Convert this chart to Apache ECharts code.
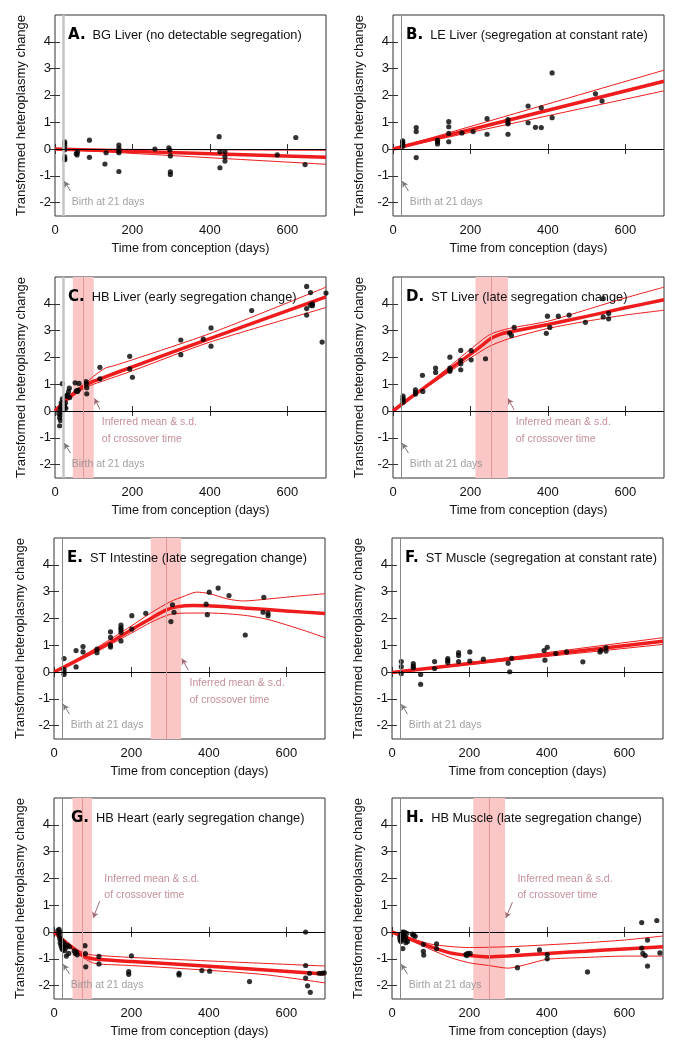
<!DOCTYPE html>
<html><head><meta charset="utf-8">
<script src="https://cdn.jsdelivr.net/npm/echarts@6/dist/echarts.min.js"></script>
<style>html,body{margin:0;padding:0;background:#fff}#c{width:678px;height:1049px}</style>
</head><body><div id="c"></div>
<script>
const xTickVals = [0, 200, 400, 600];
const yTickVals = [-2, -1, 0, 1, 2, 3, 4];
const panelLetters = ['A.', 'B.', 'C.', 'D.', 'E.', 'F.', 'G.', 'H.'];
const panelTitles = ['BG Liver (no detectable segregation)', 'LE Liver (segregation at constant rate)',
  'HB Liver (early segregation change)', 'ST Liver (late segregation change)',
  'ST Intestine (late segregation change)', 'ST Muscle (segregation at constant rate)',
  'HB Heart (early segregation change)', 'HB Muscle (late segregation change)'];
const birthDay = 21;
const crossMean = [null, null, 73, 255, 289, null, 73, 251];
const crossSd = [null, null, 27, 42, 39, null, 25, 41];

const pointsA = [[25,0.27],[25,0.2],[25,0.1],[25,-0.03],[25,-0.28],[25,-0.36],[25,-0.4],[55,-0.17],[57,-0.22],[58,-0.12],[89,0.33],[89,-0.31],[129,-0.56],[132,-0.14],[165,0.15],[165,0.02],[165,-0.08],[165,-0.14],[165,-0.84],[258,0.0],[294,0.04],[297,-0.04],[298,-0.26],[298,-0.85],[298,-0.95],[424,0.46],[426,-0.1],[426,-0.7],[439,-0.1],[439,-0.29],[439,-0.45],[574,-0.22],[622,0.43],[646,-0.58]];
const pointsB = [[25,0.3],[25,0.25],[25,0.18],[25,0.1],[60,0.8],[60,0.65],[60,-0.32],[115,0.33],[115,0.27],[115,0.19],[144,1.02],[144,0.83],[144,0.58],[144,0.27],[178,0.6],[207,0.65],[243,1.13],[243,0.55],[297,1.1],[297,0.98],[297,0.94],[297,0.55],[349,1.6],[349,0.98],[368,0.81],[383,1.54],[383,0.8],[411,2.84],[411,1.17],[523,2.06],[540,1.79]];
const pointsC = [[10,-0.1],[12,-0.25],[12,-0.55],[13,0.05],[14,-0.35],[15,-0.15],[15,0.15],[16,0.3],[17,-0.05],[18,0.25],[19,1.02],[19,0.45],[20,0.1],[21,0.35],[22,0.05],[24,0.2],[25,0.15],[26,0.55],[27,0.3],[28,0.1],[30,0.55],[32,0.6],[35,0.72],[37,0.85],[38,0.5],[52,1.05],[55,0.75],[58,0.73],[62,1.03],[60,0.78],[80,1.1],[81,1.02],[82,0.87],[82,0.64],[116,1.63],[116,1.2],[193,2.04],[193,1.57],[200,1.26],[325,2.65],[325,2.1],[383,2.68],[403,3.1],[403,2.42],[508,3.75],[650,4.65],[650,3.82],[650,3.58],[660,4.42],[660,3.95],[665,3.93],[665,4.0],[690,2.57],[700,4.4]];
const pointsD = [[26,0.56],[26,0.47],[26,0.41],[26,0.33],[58,0.79],[58,0.69],[58,0.63],[76,1.33],[77,0.73],[110,1.6],[110,1.44],[147,2.01],[147,1.6],[147,1.54],[147,1.48],[175,2.26],[175,1.88],[175,1.76],[175,1.54],[202,2.25],[202,1.91],[239,1.95],[301,2.91],[306,2.82],[313,3.12],[396,2.9],[399,3.54],[405,3.12],[427,3.54],[455,3.58],[497,3.31],[543,4.19],[543,3.51],[557,3.64],[557,3.44]];
const pointsE = [[26,0.5],[26,0.1],[26,0],[26,-0.09],[57,0.8],[57,0.19],[75,0.95],[75,0.75],[111,0.85],[111,0.72],[146,1.5],[146,1.29],[146,1.0],[146,0.93],[173,1.75],[173,1.65],[173,1.58],[173,1.48],[173,1.16],[201,2.1],[201,1.6],[237,2.19],[302,1.88],[306,2.51],[310,2.23],[393,2.53],[396,2.14],[401,2.98],[424,3.13],[452,2.85],[494,1.38],[542,2.79],[540,2.23],[553,2.2],[553,2.1]];
const pointsF = [[24,0.39],[24,0.2],[24,-0.06],[55,0.31],[55,0.22],[55,0.16],[74,-0.09],[74,-0.46],[110,0.39],[110,0.13],[144,0.5],[144,0.43],[144,0.35],[172,0.72],[172,0.62],[172,0.39],[201,0.75],[201,0.41],[236,0.48],[300,0.33],[304,0.01],[309,0.51],[393,0.8],[395,0.44],[401,0.92],[423,0.69],[451,0.75],[493,0.38],[537,0.75],[540,0.81],[553,0.91],[553,0.78]];
const pointsG = [[10,0.05],[12,-0.05],[13,0.1],[14,-0.15],[15,-0.25],[16,-0.4],[17,0.0],[18,-0.5],[19,-0.3],[20,-0.6],[21,-0.45],[22,-0.65],[24,-0.55],[25,-0.4],[27,-0.7],[28,-0.5],[30,-0.6],[32,-0.9],[35,-0.5],[38,-0.8],[40,-0.55],[52,-0.7],[55,-0.8],[58,-0.75],[60,-0.85],[80,-0.51],[81,-0.81],[82,-1.3],[116,-0.91],[116,-1.19],[193,-1.48],[193,-1.58],[200,-0.89],[323,-1.54],[323,-1.6],[382,-1.44],[402,-1.46],[505,-1.85],[650,0.0],[650,-1.25],[650,-1.72],[655,-2.01],[660,-1.54],[662,-2.25],[685,-1.54],[692,-1.54],[698,-1.52]];
const pointsH = [[20,-0.2],[21,-0.3],[22,-0.12],[23,-0.35],[25,-0.25],[26,-0.05],[27,0.0],[28,-0.62],[29,-0.15],[30,-0.1],[32,0.0],[33,-0.3],[35,-0.2],[36,-0.4],[38,-0.05],[40,-0.35],[53,-0.08],[56,-0.12],[60,-0.16],[81,-0.46],[81,-0.72],[82,-0.86],[115,-0.44],[115,-0.62],[191,-0.83],[193,-0.88],[196,-0.8],[202,-0.8],[324,-0.69],[324,-1.33],[381,-0.67],[401,-0.84],[401,-1.0],[505,-1.49],[645,0.35],[645,-0.6],[648,-0.8],[654,-0.88],[660,-0.3],[660,-1.27],[684,0.43],[692,-0.78]];

const fitA = [[0,0],[700,-0.31]];
const upperA = [[0,0],[700,-0.05]];
const lowerA = [[0,0],[700,-0.57]];
const fitB = [[0,0],[700,2.53]];
const upperB = [[0,0],[700,2.94]];
const lowerB = [[0,0],[700,2.17]];
const fitC = [[0,0],[10,0.15],[20,0.3],[30,0.42],[45,0.6],[60,0.78],[75,0.93],[90,1.05],[120,1.22],[200,1.65],[400,2.7],[700,4.26]];
const upperC = [[0,0],[30,0.5],[60,0.85],[80,1.05],[100,1.3],[130,1.6],[150,1.68],[200,1.91],[400,2.89],[700,4.62]];
const lowerC = [[0,0],[30,0.38],[60,0.7],[80,0.88],[100,1.0],[130,1.15],[200,1.5],[400,2.57],[700,3.86]];
const fitD = [[0,0],[50,0.55],[100,1.07],[150,1.6],[200,2.12],[230,2.45],[255,2.72],[280,2.88],[300,2.95],[400,3.23],[500,3.53],[600,3.85],[700,4.15]];
const upperD = [[0,0],[100,1.12],[200,2.3],[250,2.85],[300,3.08],[400,3.35],[500,3.78],[600,4.22],[700,4.62]];
const lowerD = [[0,0],[100,1.02],[200,1.98],[250,2.42],[300,2.7],[400,3.08],[500,3.35],[600,3.58],[700,3.76]];
const fitE = [[0,0],[50,0.36],[100,0.75],[150,1.15],[200,1.58],[250,2.0],[290,2.32],[320,2.44],[360,2.48],[400,2.47],[500,2.38],[600,2.28],[700,2.18]];
const upperE = [[0,0],[100,0.82],[200,1.72],[250,2.2],[300,2.62],[340,2.85],[368,2.98],[400,2.93],[450,2.72],[490,2.65],[550,2.72],[620,2.82],[700,2.92]];
const lowerE = [[0,0],[100,0.68],[200,1.45],[250,1.85],[300,2.15],[350,2.2],[400,2.2],[450,2.17],[500,2.1],[550,1.97],[600,1.76],[650,1.53],[700,1.28]];
const fitF = [[0,-0.02],[700,1.15]];
const upperF = [[0,-0.02],[700,1.28]];
const lowerF = [[0,-0.02],[700,1.03]];
const fitG = [[0,0],[20,-0.25],[40,-0.5],[60,-0.72],[75,-0.88],[90,-0.97],[120,-1.03],[200,-1.1],[400,-1.28],[700,-1.57]];
const upperG = [[0,0],[20,-0.22],[40,-0.45],[60,-0.65],[80,-0.8],[100,-0.86],[120,-0.88],[200,-0.95],[400,-1.08],[700,-1.27]];
const lowerG = [[0,0],[20,-0.28],[40,-0.55],[60,-0.8],[80,-1.0],[100,-1.15],[120,-1.2],[200,-1.25],[400,-1.43],[550,-1.6],[700,-1.9]];
const fitH = [[0,0],[50,-0.28],[100,-0.55],[150,-0.78],[200,-0.88],[250,-0.93],[300,-0.9],[400,-0.8],[500,-0.72],[600,-0.63],[700,-0.55]];
const upperH = [[0,0],[100,-0.45],[200,-0.58],[300,-0.55],[400,-0.48],[500,-0.4],[600,-0.3],[700,-0.15]];
const lowerH = [[0,0],[100,-0.65],[150,-0.95],[200,-1.15],[250,-1.25],[300,-1.35],[350,-1.2],[400,-1.02],[500,-0.95],[600,-0.9],[700,-0.9]];

const allPoints = [pointsA, pointsB, pointsC, pointsD, pointsE, pointsF, pointsG, pointsH];
const allFit = [fitA, fitB, fitC, fitD, fitE, fitF, fitG, fitH];
const allUpper = [upperA, upperB, upperC, upperD, upperE, upperF, upperG, upperH];
const allLower = [lowerA, lowerB, lowerC, lowerD, lowerE, lowerF, lowerG, lowerH];

// layout (pixels)
const gridLeft = [55, 393, 55, 393, 54, 392, 54, 392];
const gridTop = [15, 15, 277, 277, 538, 538, 798, 798];
const GW = 271, GH = 201;
const titleLeft = [68, 406, 68, 406, 67, 405, 71, 406];
// annotation anchors in data units
const noteAnchor = [null, null, [121,-0.74], [317,-0.74], [350,-0.74], null, [130,1.68], [324,1.68]];
const noteArrow = [null, null, [[116,0.06],[102,0.47]], [[313,0.04],[297,0.47]], [[347,0.07],[330,0.5]], null, [[118,1.15],[101,0.52]], [[311,1.11],[294,0.52]]];
const birthWide = [true, false, true, false, false, false, false, false];

const FONT = 'Liberation Sans, Arial, Helvetica, sans-serif';
const RED = '#ee1c1c';

const option = { animation: false, backgroundColor: '#fff', grid: [], xAxis: [], yAxis: [], series: [], title: [] };

for (let i = 0; i < 8; i++) {
  option.grid.push({ left: gridLeft[i], top: gridTop[i], width: GW, height: GH, show: true, borderColor: '#333', borderWidth: 1, containLabel: false });
  const tick = { show: true, inside: true, length: 5, lineStyle: { color: '#333', width: 1 } };
  option.xAxis.push({
    gridIndex: i, type: 'value', min: 0, max: 700, position: 'bottom',
    axisLine: { show: false }, splitLine: { show: false },
    axisTick: Object.assign({ customValues: xTickVals }, tick),
    axisLabel: { customValues: xTickVals, fontSize: 13, color: '#111', margin: 8, fontFamily: FONT },
    name: 'Time from conception (days)', nameLocation: 'middle', nameGap: 26,
    nameTextStyle: { fontSize: 12.5, color: '#111', fontFamily: FONT }
  });
  option.xAxis.push({
    gridIndex: i, type: 'value', min: 0, max: 700, position: 'top',
    axisLine: { show: false }, splitLine: { show: false },
    axisTick: Object.assign({ customValues: xTickVals }, tick),
    axisLabel: { show: false }
  });
  option.yAxis.push({
    gridIndex: i, type: 'value', min: -2.5, max: 5, position: 'left',
    axisLine: { show: false }, splitLine: { show: false },
    axisTick: Object.assign({ customValues: yTickVals }, tick),
    axisLabel: { customValues: yTickVals, fontSize: 13, color: '#111', margin: 4, fontFamily: FONT },
    name: 'Transformed heteroplasmy change', nameLocation: 'middle', nameGap: 27, nameRotate: 90,
    nameTextStyle: { fontSize: 13, color: '#111', fontFamily: FONT }
  });
  option.yAxis.push({
    gridIndex: i, type: 'value', min: -2.5, max: 5, position: 'right',
    axisLine: { show: false }, splitLine: { show: false },
    axisTick: Object.assign({ customValues: yTickVals }, tick),
    axisLabel: { show: false }
  });
  const xi = 2 * i, yi = 2 * i;

  option.title.push({
    left: titleLeft[i], top: gridTop[i] + 13, padding: 0,
    text: '{b|' + panelLetters[i] + '}{n|' + panelTitles[i] + '}',
    textStyle: { fontWeight: 'normal', rich: {
      b: { fontFamily: 'DejaVu Sans', fontWeight: 900, fontSize: 15, color: '#000', padding: [0, 7, 0, 0] },
      n: { fontFamily: FONT, fontWeight: 'normal', fontSize: 12.8, color: '#111' } } }
  });

  // reference lines & crossover band
  const mlData = [];
  mlData.push({ xAxis: birthDay, lineStyle: birthWide[i] ? { color: '#c4c4c4', width: 2.5, type: 'solid' } : { color: '#888', width: 1, type: 'solid' } });
  mlData.push({ yAxis: 0, lineStyle: { color: '#000', width: 1, type: 'solid' } });
  const refSeries = {
    type: 'line', xAxisIndex: xi, yAxisIndex: yi, data: [], silent: true, z: 1,
    markLine: { symbol: ['none', 'none'], silent: true, animation: false, label: { show: false }, data: mlData }
  };
  if (crossMean[i] !== null) {
    refSeries.markArea = { silent: true, itemStyle: { color: '#fbc6c6', opacity: 1 },
      data: [[{ xAxis: crossMean[i] - crossSd[i] }, { xAxis: crossMean[i] + crossSd[i] }]] };
    mlData.push({ xAxis: crossMean[i], lineStyle: { color: '#e79696', width: 1, type: 'solid' } });
  }
  option.series.push(refSeries);

  // fitted curves
  const lineBase = { type: 'line', xAxisIndex: xi, yAxisIndex: yi, showSymbol: false, symbol: 'none', silent: true, smooth: 0.25, z: 3 };
  option.series.push(Object.assign({}, lineBase, { data: allUpper[i], lineStyle: { color: RED, width: 1 } }));
  option.series.push(Object.assign({}, lineBase, { data: allLower[i], lineStyle: { color: RED, width: 1 } }));
  option.series.push(Object.assign({}, lineBase, { data: allFit[i], lineStyle: { color: RED, width: 3.5 } }));

  // data points
  option.series.push({ type: 'scatter', xAxisIndex: xi, yAxisIndex: yi, data: allPoints[i], symbol: 'circle', symbolSize: 5.2, itemStyle: { color: '#000' }, silent: true, z: 4 });

  // annotations
  const notes = [{ value: [43, -2.0], label: { show: true, position: [0, 0], align: 'left', verticalAlign: 'middle', formatter: 'Birth at 21 days', color: '#8a8a8a', fontSize: 10.5, fontFamily: FONT } }];
  const arrows = [[{ coord: [40, -1.57] }, { coord: [24, -1.2], lineStyle: { color: '#777', width: 1 } }]];
  if (noteAnchor[i]) {
    notes.push({ value: noteAnchor[i], label: { show: true, position: [0, 0], align: 'left', verticalAlign: 'middle', formatter: 'Inferred mean & s.d.\nof crossover time', color: '#b5727e', fontSize: 10.5, lineHeight: 16.5, fontFamily: FONT } });
    arrows.push([{ coord: noteArrow[i][0] }, { coord: noteArrow[i][1], lineStyle: { color: '#a06a72', width: 1 } }]);
  }
  option.series.push({
    type: 'scatter', xAxisIndex: xi, yAxisIndex: yi, symbolSize: 0, silent: true, z: 6, data: notes,
    markLine: { symbol: ['none', 'arrow'], symbolSize: [5, 6], silent: true, animation: false, label: { show: false }, lineStyle: { type: 'solid' }, data: arrows }
  });
}

const chart = echarts.init(document.getElementById('c'), null, { renderer: 'canvas', width: 678, height: 1049 });
chart.setOption(option);
</script></body></html>
